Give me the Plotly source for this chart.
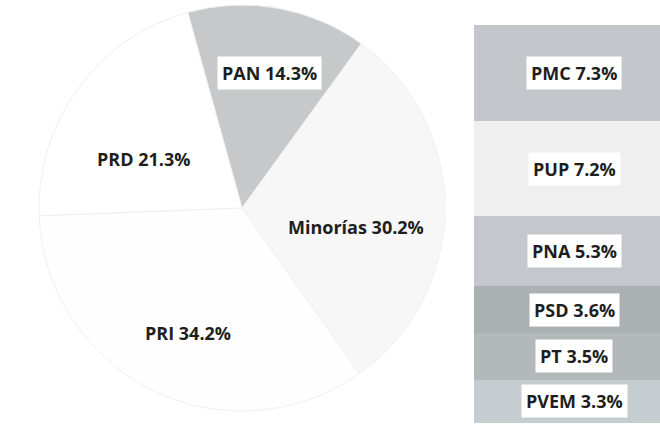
import math
import plotly.graph_objects as go

# Pie data (clockwise from the PAN slice)
pie_labels = ["PAN", "Minorías", "PRI", "PRD"]
pie_values = [14.3, 30.2, 34.2, 21.3]
pie_colors = ["#c6c8ca", "#f7f7f7", "#fefefe", "#ffffff"]

# Breakdown of "Minorías" (bottom to top)
bar_labels = ["PVEM", "PT", "PSD", "PNA", "PUP", "PMC"]
bar_values = [3.3, 3.5, 3.6, 5.3, 7.2, 7.3]
bar_colors = ["#c6cdd0", "#b3b9ba", "#abb1b3", "#c4c7cb", "#efeff0", "#c3c6ca"]

# Style: label placement nudges (angle offset in degrees, radius fraction)
pie_label_nudge = [(1.4, 0.68), (9.0, 0.57), (-2.8, 0.67), (-9.7, 0.54)]
pie_label_box = [True, False, False, False]

FONT = "Open Sans"
W, H = 660, 445
ROT = -15.5
CX, CY, R = 242, 208, 203

fig = go.Figure()

fig.add_trace(go.Pie(
    labels=pie_labels,
    values=pie_values,
    sort=False,
    direction="clockwise",
    rotation=ROT,
    marker=dict(colors=pie_colors, line=dict(color="#f0f0f0", width=1)),
    textinfo="none",
    domain=dict(x=[(CX - R) / W, (CX + R) / W], y=[(H - CY - R) / H, (H - CY + R) / H]),
    showlegend=False,
    hoverinfo="label+value",
))

total = sum(pie_values)
cum = 0.0
for lab, val, (da, rf), box in zip(pie_labels, pie_values, pie_label_nudge, pie_label_box):
    mid = ROT + (cum + val / 2) / total * 360.0 + da
    cum += val
    px = CX + rf * R * math.sin(math.radians(mid))
    py = CY - rf * R * math.cos(math.radians(mid))
    fig.add_annotation(
        x=px / W, y=1 - py / H, xref="paper", yref="paper",
        xanchor="center", yanchor="middle",
        text=f"<b>{lab} {val:.1f}%</b>",
        showarrow=False, bgcolor="white" if box else "rgba(0,0,0,0)", borderpad=4,
        font=dict(family=FONT, size=18, color="#1e1e1e"),
    )

for lab, val, col in zip(bar_labels, bar_values, bar_colors):
    fig.add_trace(go.Bar(
        x=["Minorías"],
        y=[val],
        name=lab,
        marker=dict(color=col, line=dict(width=0)),
        width=1.0,
        showlegend=False,
    ))

# White-boxed labels centered in each stacked segment
cum = 0.0
for lab, val in zip(bar_labels, bar_values):
    mid = cum + val / 2
    cum += val
    fig.add_annotation(
        x="Minorías", y=mid, xref="x", yref="y",
        xanchor="center", yanchor="middle",
        text=f"<b>{lab} {val:.1f}%</b>",
        showarrow=False, bgcolor="white", borderpad=4,
        font=dict(family=FONT, size=18, color="#1e1e1e"),
        xshift=7,
    )

fig.update_layout(
    width=W, height=H,
    margin=dict(l=0, r=0, t=0, b=0),
    paper_bgcolor="white", plot_bgcolor="white",
    barmode="stack",
    bargap=0,
    xaxis=dict(domain=[474 / W, 1.0], visible=False, range=[-0.5, 0.5]),
    yaxis=dict(domain=[(H - 423) / H, (H - 25) / H], visible=False,
               range=[0, sum(bar_values)]),
)

fig.write_html(
    "out.html",
    config={"displayModeBar": False},
    post_script="document.body.style.margin='0px';document.body.style.overflow='hidden';",
)
